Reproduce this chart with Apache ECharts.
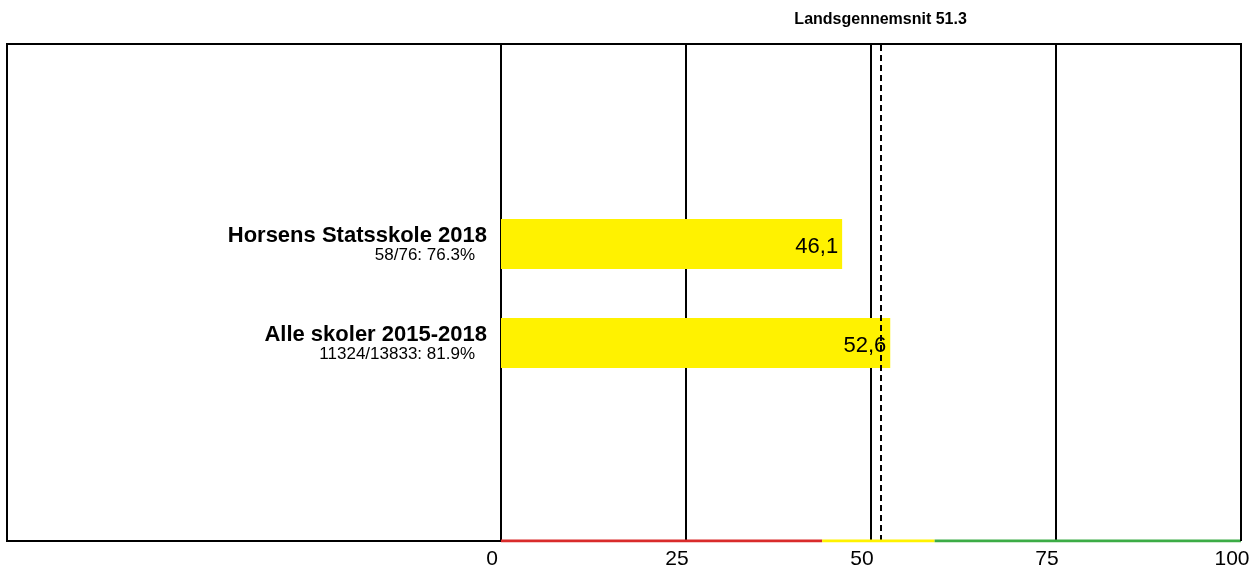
<!DOCTYPE html>
<html>
<head>
<meta charset="utf-8">
<script src="https://cdn.jsdelivr.net/npm/echarts@6/dist/echarts.min.js"></script>
<style>
  html, body { margin: 0; padding: 0; background: #fff; }
  #chart { width: 1253px; height: 572px; }
</style>
</head>
<body>
<div id="chart"></div>
<script>
const categories = ['Horsens Statsskole 2018', 'Alle skoler 2015-2018']
const subLabels = ['58/76: 76.3%', '11324/13833: 81.9%']
const values = [46.1, 52.6]
const average = 51.3
const bandEdges = [0, 43.4, 58.6, 100]
const bandColors = ['#d92b2b', '#fff200', '#3cac46']

const chart = echarts.init(document.getElementById('chart'))

const font = 'Liberation Sans, Arial, sans-serif'
const plotLeft = 501
const plotRight = 12
const plotTop = 44
const plotBottom = 31

// coloured band along the bottom edge
const bandSeries = bandColors.map((c, i) => ({
  type: 'line',
  xAxisIndex: 0,
  yAxisIndex: 0,
  data: [[bandEdges[i], 0], [bandEdges[i + 1], 0]],
  symbol: 'none',
  lineStyle: { color: c, width: 3 },
  silent: true,
  z: 5,
}))

chart.setOption({
  animation: false,
  textStyle: { fontFamily: font },
  grid: [
    { left: plotLeft, right: plotRight, top: plotTop, bottom: plotBottom },
    { left: plotLeft, right: plotRight, top: 194.5, bottom: 179.5 },
  ],
  graphic: [
    {
      type: 'polyline',
      shape: { points: [[plotLeft, 541], [7, 541], [7, 44], [1241, 44], [1241, 541]] },
      style: { stroke: '#000', lineWidth: 2, fill: null },
      z: 10,
    },
  ],
  xAxis: [
    {
      gridIndex: 0,
      type: 'value',
      min: 0,
      max: 100,
      interval: 25,
      axisLine: { show: false },
      axisTick: { show: false },
      splitLine: { show: true, lineStyle: { color: '#000', width: 2 } },
      axisLabel: {
        color: '#000',
        fontSize: 21,
        margin: 8,
        padding: [0, 18, 0, 0],
      },
    },
    {
      gridIndex: 1,
      type: 'value',
      min: 0,
      max: 100,
      show: false,
    },
  ],
  yAxis: [
    { gridIndex: 0, type: 'value', min: 0, max: 1, show: false },
    {
      gridIndex: 1,
      type: 'category',
      inverse: true,
      data: categories,
      axisLine: { show: false },
      axisTick: { show: false },
      axisLabel: {
        margin: 14,
        formatter: (v, i) => `{name|${v}}\n{sub|${subLabels[i]}}`,
        rich: {
          name: { fontSize: 22, fontWeight: 'bold', color: '#000', align: 'right', lineHeight: 22 },
          sub: { fontSize: 17, color: '#000', align: 'right', lineHeight: 16, padding: [0, 12, 0, 0] },
        },
      },
    },
  ],
  series: [
    ...bandSeries,
    {
      type: 'bar',
      xAxisIndex: 1,
      yAxisIndex: 1,
      data: values,
      barWidth: 50,
      itemStyle: { color: '#fff200' },
      label: {
        show: true,
        position: 'insideRight',
        distance: 4,
        offset: [0, 3],
        color: '#000',
        fontSize: 22,
        formatter: (p) => String(p.value).replace('.', ','),
      },
      z: 3,
    },
    {
      type: 'line',
      xAxisIndex: 0,
      yAxisIndex: 0,
      data: [],
      markLine: {
        silent: true,
        symbol: 'none',
        lineStyle: { color: '#000', type: [6, 4], width: 2 },
        label: {
          show: true,
          position: 'end',
          distance: 16,
          color: '#000',
          fontSize: 16,
          fontWeight: 'bold',
          formatter: 'Landsgennemsnit ' + average,
        },
        data: [{ xAxis: average }],
      },
      z: 4,
    },
  ],
})
</script>
</body>
</html>
